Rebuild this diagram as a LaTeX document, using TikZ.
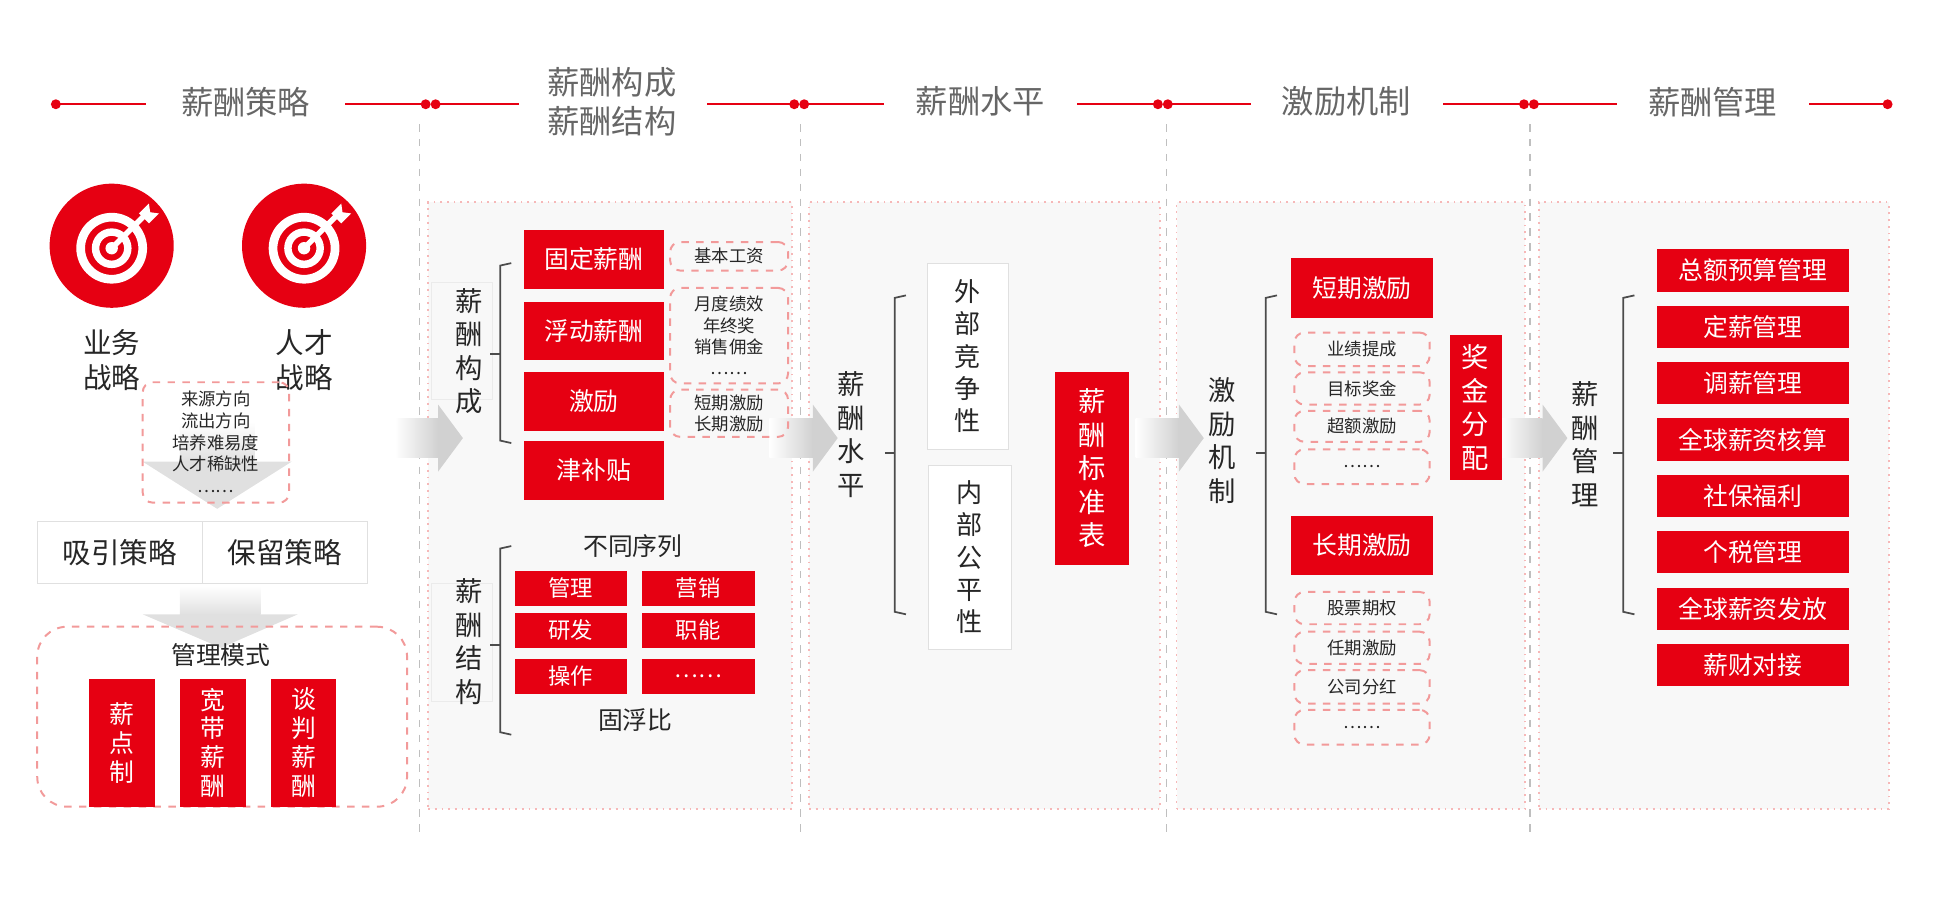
\documentclass[tikz,border=0pt]{standalone}
\usepackage{fontspec}
\setmainfont{Noto Sans CJK SC}
\definecolor{cred}{HTML}{E60012}
\definecolor{cpink}{HTML}{F29A9A}
\definecolor{cgray}{HTML}{666666}
\definecolor{cpanel}{HTML}{F8F8F8}
\tikzset{
 rbox/.style={fill=cred,draw=none,inner sep=0,text=white,align=center,font=\fontsize{10}{12}\selectfont},
 sbox/.style={rbox,font=\fontsize{9}{11}\selectfont},
 tbox/.style={rbox,font=\fontsize{11}{13.5}\selectfont},
 mbox/.style={rbox,font=\fontsize{10}{11.6}\selectfont},
 dbox/.style={draw=cpink,dashed,line width=0.8pt,rounded corners=4pt,inner sep=0,align=center,font=\fontsize{7}{8.6}\selectfont,text=black!85},
 wbox/.style={draw=black!12,fill=white,inner sep=0,align=center,font=\fontsize{10.5}{13}\selectfont,text=black!85},
 panel/.style={draw=cpink!70,dotted,line width=0.7pt,fill=cpanel,inner sep=0},
 vlab/.style={align=center,font=\fontsize{11}{13.5}\selectfont,text=black!85},
 head/.style={font=\fontsize{13}{16}\selectfont,text=cgray,align=center},
 hline/.style={cred,line width=0.8pt},
 brk/.style={draw=black!70,line width=0.7pt},
}
% \bx[style]{name}{x1}{y1}{x2}{y2}{text}
\newcommand{\bx}[7][]{%
 \pgfmathsetmacro\bxcx{(#3+#5)/2}\pgfmathsetmacro\bxcy{(#4+#6)/2}%
 \pgfmathsetmacro\bxw{(#5-#3)*0.5}\pgfmathsetmacro\bxh{(#6-#4)*0.5}%
 \node[#1,minimum width=\bxw pt,minimum height=\bxh pt] (#2) at (\bxcx,\bxcy) {#7};}
\newcommand{\brkt}[4]{\draw[brk] (#1+12,#2) -- (#1+3,#2+2) -- (#1+3,#3-2) -- (#1+12,#3);
 \draw[brk] (#1-5,#4) -- (#1+3,#4);}
\newcommand{\garrowr}[2]{\shade[left color=white,right color=black!18] (#1-30,#2-16) rectangle (#1+5,#2+16);
 \fill[black!18] (#1+5,#2-27) -- (#1+25,#2) -- (#1+5,#2+27) -- cycle;}
\begin{document}
\begin{tikzpicture}[x=0.5pt,y=-0.5pt]
\useasboundingbox (0,0) rectangle (1560,735);
% header
\foreach \x in {45,343,351,640,648,933,941,1228,1236,1521}{\fill[cred] (\x,84) circle (4);}
\draw[hline] (45,84)--(118,84); \draw[hline] (278,84)--(343,84);
\draw[hline] (351,84)--(418,84); \draw[hline] (570,84)--(640,84);
\draw[hline] (648,84)--(712,84); \draw[hline] (868,84)--(933,84);
\draw[hline] (941,84)--(1008,84); \draw[hline] (1163,84)--(1228,84);
\draw[hline] (1236,84)--(1303,84); \draw[hline] (1458,84)--(1521,84);
\node[head] (h1) at (198,82) {薪酬策略};
\node[head] (h2) at (493,82) {薪酬构成\\薪酬结构};
\node[head] (h3) at (790,82) {薪酬水平};
\node[head] (h4) at (1085,82) {激励机制};
\node[head] (h5) at (1380,82) {薪酬管理};
\foreach \x in {338,645,940,1233}{\draw[black!25,dashed,line width=0.7pt] (\x,100)--(\x,675);}
% panels
\bx[panel]{p2}{345}{163}{638}{652}{}
\bx[panel]{p3}{652}{163}{935}{652}{}
\bx[panel]{p4}{948}{163}{1229}{652}{}
\bx[panel]{p5}{1240}{163}{1522}{652}{}
% arrows between panels
\garrowr{348}{353}\garrowr{650}{353}\garrowr{945}{353}\garrowr{1238}{353}
% panel 1
\foreach \cx/\nm in {90/c1,245/c2}{
 \fill[cred] (\cx,198) circle (50);
 \node[circle,inner sep=0,minimum size=50pt] (\nm) at (\cx,198) {};
 \draw[white,line width=3.5pt] (\cx,200) circle (25);
 \draw[white,line width=3pt] (\cx,200) circle (13);
 \fill[white] (\cx,200) circle (5);
 \draw[white,line width=2.2pt] (\cx,200) -- (\cx+27,173);
 \fill[white] (\cx+22,172) -- (\cx+30,164) -- (\cx+31,171) -- (\cx+38,172) -- (\cx+30,180) -- (\cx+28,178) -- cycle;
}
\node[vlab,font=\fontsize{11.5}{14}\selectfont] (l1) at (90,290) {业务\\战略};
\node[vlab,font=\fontsize{11.5}{14}\selectfont] (l2) at (245,290) {人才\\战略};
\shade[top color=white,bottom color=black!12] (145,340) rectangle (205,372);
\fill[black!12] (115,372) -- (235,372) -- (175,410) -- cycle;
\bx[dbox]{src}{115}{308}{233}{405}{}
\node[font=\fontsize{7}{8.8}\selectfont,align=center,text=black!85] (srct) at (174,356) {来源方向\\流出方向\\培养难易度\\人才稀缺性\\……};
\bx[wbox,font=\fontsize{11.5}{14}\selectfont]{xy}{30}{420}{163}{470}{吸引策略}
\bx[wbox,font=\fontsize{11.5}{14}\selectfont]{bl}{163}{420}{296}{470}{保留策略}
\shade[top color=white,bottom color=black!12] (145,472) rectangle (210,495);
\fill[black!12] (115,495) -- (240,495) -- (178,522) -- cycle;
\bx[dbox,rounded corners=12pt]{gl}{30}{505}{328}{650}{}
\node[vlab,font=\fontsize{10}{12}\selectfont] (glt) at (178,528) {管理模式};
\bx[mbox]{m1}{72}{547}{125}{650}{薪\\点\\制}
\bx[mbox]{m2}{145}{547}{198}{650}{宽\\带\\薪\\酬}
\bx[mbox]{m3}{218}{547}{271}{650}{谈\\判\\薪\\酬}
% panel 2
\bx[draw=black!8,fill=cpanel,inner sep=0]{g1}{348}{228}{397}{322}{}
\node[vlab] (v1) at (378,283) {薪\\酬\\构\\成};
\brkt{400}{212}{357}{285}
\bx[rbox]{a1}{422}{185}{535}{233}{固定薪酬}
\bx[rbox]{a2}{422}{243}{535}{290}{浮动薪酬}
\bx[rbox]{a3}{422}{300}{535}{347}{激励}
\bx[rbox]{a4}{422}{355}{535}{403}{津补贴}
\bx[dbox]{b1}{540}{195}{635}{218}{基本工资}
\bx[dbox]{b2}{540}{232}{635}{309}{月度绩效\\年终奖\\销售佣金\\……}
\bx[dbox]{b3}{540}{314}{635}{352}{短期激励\\长期激励}
\bx[draw=black!8,fill=cpanel,inner sep=0]{g2}{348}{470}{397}{565}{}
\node[vlab] (v2) at (378,517) {薪\\酬\\结\\构};
\brkt{400}{440}{592}{520}
\node[vlab,font=\fontsize{10}{12}\selectfont] (bt) at (510,440) {不同序列};
\bx[sbox]{s1}{415}{460}{505}{488}{管理}
\bx[sbox]{s2}{517}{460}{608}{488}{营销}
\bx[sbox]{s3}{415}{494}{505}{522}{研发}
\bx[sbox]{s4}{517}{494}{608}{522}{职能}
\bx[sbox]{s5}{415}{531}{505}{559}{操作}
\bx[sbox]{s6}{517}{531}{608}{559}{……}
\node[vlab,font=\fontsize{10}{12}\selectfont] (gf) at (512,580) {固浮比};
% panel 3
\node[vlab] (v3) at (686,350) {薪\\酬\\水\\平};
\brkt{718}{238}{495}{365}
\bx[wbox]{w1}{747}{212}{813}{362}{外\\部\\竞\\争\\性}
\bx[wbox]{w2}{748}{375}{815}{523}{内\\部\\公\\平\\性}
\bx[tbox]{bz}{850}{300}{910}{455}{薪\\酬\\标\\准\\表}
% panel 4
\node[vlab] (v4) at (985,355) {激\\励\\机\\制};
\brkt{1017}{238}{495}{365}
\bx[rbox]{k1}{1040}{208}{1155}{256}{短期激励}
\bx[dbox]{d1}{1043}{268}{1152}{295}{业绩提成}
\bx[dbox]{d2}{1043}{300}{1152}{326}{目标奖金}
\bx[dbox]{d3}{1043}{331}{1152}{356}{超额激励}
\bx[dbox]{d4}{1043}{362}{1152}{390}{……}
\bx[tbox]{jf}{1168}{270}{1210}{387}{奖\\金\\分\\配}
\bx[rbox]{k2}{1040}{416}{1155}{463}{长期激励}
\bx[dbox]{e1}{1043}{477}{1152}{503}{股票期权}
\bx[dbox]{e2}{1043}{509}{1152}{535}{任期激励}
\bx[dbox]{e3}{1043}{540}{1152}{567}{公司分红}
\bx[dbox]{e4}{1043}{572}{1152}{600}{……}
% panel 5
\node[vlab] (v5) at (1277,358) {薪\\酬\\管\\理};
\brkt{1305}{238}{495}{365}
\foreach \t [count=\i] in {总额预算管理,定薪管理,调薪管理,全球薪资核算,社保福利,个税管理,全球薪资发放,薪财对接}{
 \pgfmathsetmacro\ya{201+45.4*(\i-1)}
 \pgfmathsetmacro\yb{\ya+34}
 \bx[rbox]{g\i x}{1335}{\ya}{1490}{\yb}{\t}
}
\end{tikzpicture}
\end{document}
